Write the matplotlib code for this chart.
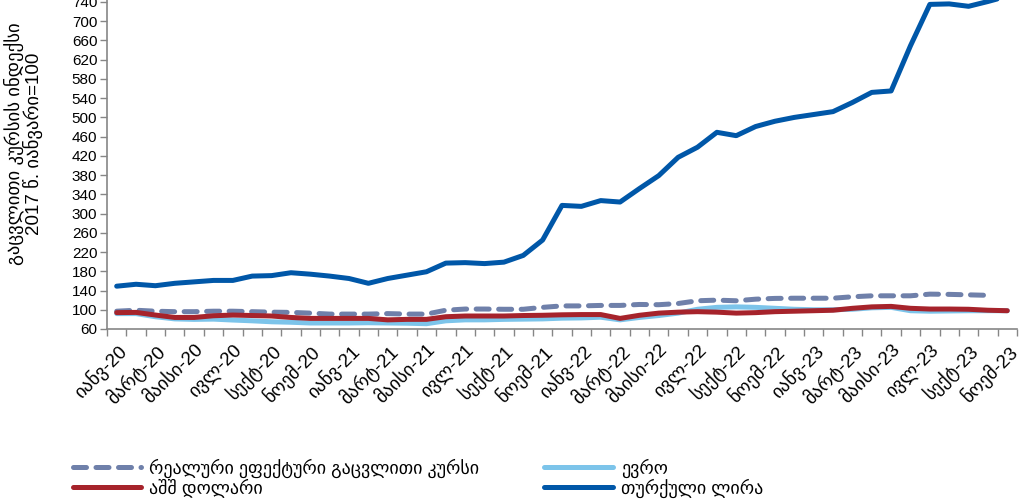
import numpy as np
import matplotlib
matplotlib.use("Agg")
import matplotlib.pyplot as plt

plt.rcParams['font.family'] = ['Liberation Sans', 'DejaVu Sans']

# monthly index values, Jan-20 .. Nov-23 (47 months)
reer = [97, 99, 97, 96, 96, 97, 97, 96, 95, 94.5,
        93, 91, 91, 91, 92, 91, 91, 99, 101.5, 101.5,
        101, 101, 105, 108, 108, 109, 109, 111, 110.5, 113,
        118.7, 120, 118.7, 122, 123.6, 124, 124, 124, 127, 129,
        129, 129, 132.5, 132, 131, 130, np.nan]
usd = [94, 94.5, 89, 84, 84, 87.5, 89, 88, 87, 84,
       82, 82, 82, 82, 79, 80, 80, 85.5, 87, 87,
       87, 88, 88.5, 89.5, 90, 90, 82, 88.5, 93, 95,
       96, 95, 93, 94, 96, 97, 98, 99, 103, 106,
       107, 103, 101.5, 101.5, 101, 99, 98]
eur = [92, 92, 85.5, 81, 80, 80.5, 78.6, 77, 75, 74,
       72.5, 72.5, 72.5, 73, 72.5, 72, 71, 77, 79, 79,
       80, 80.5, 81, 82.5, 83, 84.5, 79, 84, 88, 93,
       101, 105, 106, 105, 103, 101, 100, 100, 101, 104,
       105, 98, 97, 97.5, 98, 98, 98]
try_lira = [149, 153, 150, 155, 158, 161, 161, 170, 171, 177,
            174, 170, 165, 155, 165, 172, 179, 197, 198, 196,
            199, 213, 245, 317, 315, 327, 324, 352, 379, 417,
            438, 469, 462, 481, 492, 500, 506, 512, 531, 552,
            555, 649, 735, 736, 731, 741, 752]

tick_labels = ["იანვ-20", "მარტ-20", "მაისი-20", "ივლ-20", "სექტ-20", "ნოემ-20",
               "იანვ-21", "მარტ-21", "მაისი-21", "ივლ-21", "სექტ-21", "ნოემ-21",
               "იანვ-22", "მარტ-22", "მაისი-22", "ივლ-22", "სექტ-22", "ნოემ-22",
               "იანვ-23", "მარტ-23", "მაისი-23", "ივლ-23", "სექტ-23", "ნოემ-23"]

legend_names = ["რეალური ეფექტური გაცვლითი კურსი", "აშშ დოლარი", "ევრო", "თურქული ლირა"]

C_REER = "#6f80aa"
C_USD = "#a6232b"
C_EUR = "#7cc4ea"
C_TRY = "#0057a8"

n = len(usd)
x = np.arange(n)

fig = plt.figure(figsize=(10.23, 4.99), dpi=100)
ax = fig.add_axes([0.1046, 0.3407, 0.8895, 0.6746])

lw = 3.6
l_reer, = ax.plot(x, reer, color=C_REER, lw=lw, dashes=(2.6, 1.9),
                  dash_capstyle='round', solid_joinstyle='round')
l_eur, = ax.plot(x, eur, color=C_EUR, lw=lw, solid_capstyle='round', solid_joinstyle='round')
l_usd, = ax.plot(x, usd, color=C_USD, lw=lw, solid_capstyle='round', solid_joinstyle='round')
l_try, = ax.plot(x, try_lira, color=C_TRY, lw=lw, solid_capstyle='round', solid_joinstyle='round')

ax.set_xlim(-0.5, n - 0.5)
ax.set_ylim(60, 760)
ax.set_yticks(np.arange(60, 741, 40))

ax.set_xticks(x[::2])
ax.set_xticklabels(tick_labels, rotation=45, ha='right', va='top', rotation_mode='anchor')
ax.set_xticks(np.arange(-0.5, n, 1), minor=True)
ax.tick_params(axis='x', which='major', length=0, pad=9, labelsize=13.5)
ax.tick_params(axis='x', which='minor', length=5, color='#868686', width=1)
ax.tick_params(axis='y', length=5, color='#868686', width=1, labelsize=11, pad=2)

for s in ['top', 'right']:
    ax.spines[s].set_visible(False)
for s in ['left', 'bottom']:
    ax.spines[s].set_color('#868686')
    ax.spines[s].set_linewidth(1.2)

ax.set_ylabel("გაცვლითი კურსის ინდექსი\n2017 წ. იანვარი=100", fontsize=13.5, linespacing=0.95)
ax.yaxis.set_label_coords(-0.07, 0.55)

leg_kw = dict(frameon=False, fontsize=13, handlelength=3.8, handletextpad=0.45,
              labelspacing=0.05, borderaxespad=0, loc='upper left')
fig.legend([l_reer, l_usd], legend_names[:2], bbox_to_anchor=(0.064, 0.096), **leg_kw)
fig.legend([l_eur, l_try], legend_names[2:], bbox_to_anchor=(0.525, 0.096), **leg_kw)

fig.savefig("out.png", dpi=100)
